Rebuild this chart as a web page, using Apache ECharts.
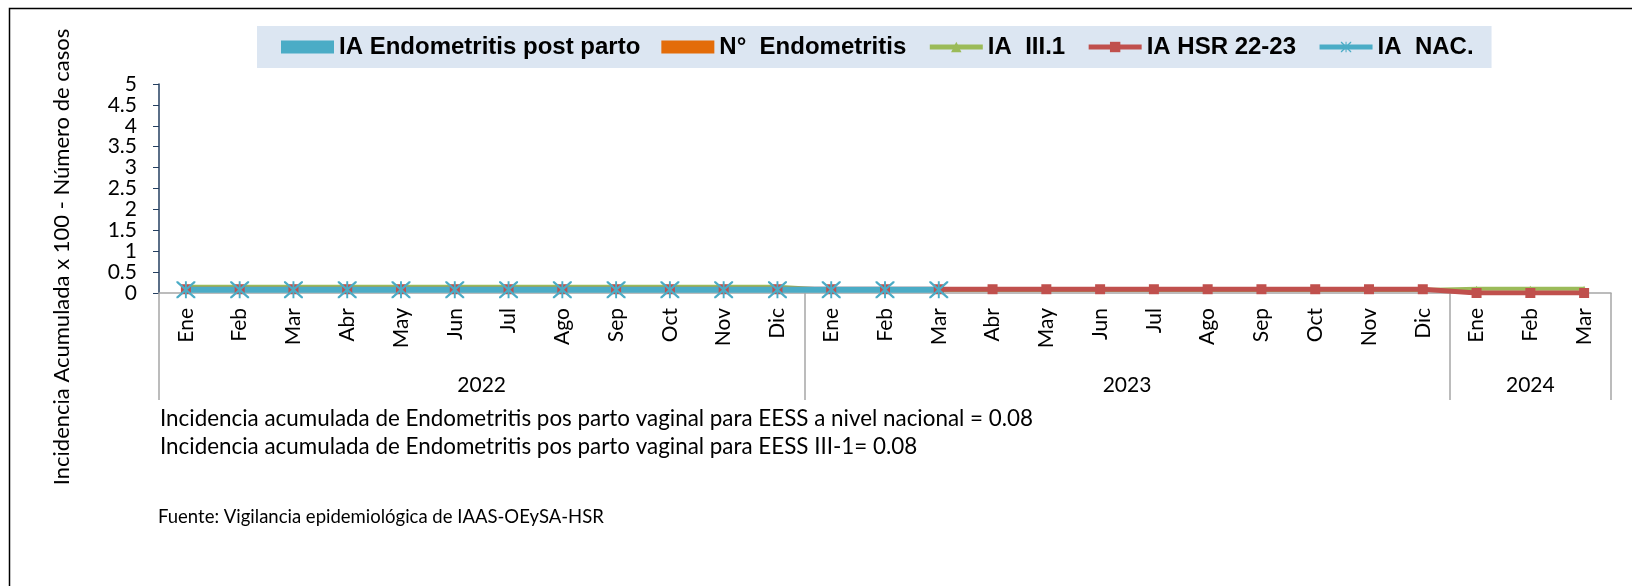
<!DOCTYPE html>
<html>
<head>
<meta charset="utf-8">
<title>Endometritis post parto</title>
<script src="https://cdn.jsdelivr.net/npm/echarts@6.0.0/dist/echarts.min.js"></script>
<style>
  html, body { margin: 0; padding: 0; background: #fff; }
  #main { width: 1632px; height: 586px; }
</style>
</head>
<body>
<div id="main"></div>
<script>
// meses (ene 2022 - mar 2024)
var meses = ['Ene', 'Feb', 'Mar', 'Abr', 'May', 'Jun', 'Jul', 'Ago', 'Sep', 'Oct', 'Nov', 'Dic',
             'Ene', 'Feb', 'Mar', 'Abr', 'May', 'Jun', 'Jul', 'Ago', 'Sep', 'Oct', 'Nov', 'Dic',
             'Ene', 'Feb', 'Mar'];
var anios = ['2022', '2023', '2024'];
var mesesPorAnio = [12, 12, 3];

var iaPostParto = [0, 0, 0, 0, 0, 0, 0, 0, 0, 0, 0, 0,
                   0, 0, 0, 0, 0, 0, 0, 0, 0, 0, 0, 0,
                   0, 0, 0];
var nEndometritis = [0, 0, 0, 0, 0, 0, 0, 0, 0, 0, 0, 0,
                     0, 0, 0, 0, 0, 0, 0, 0, 0, 0, 0, 0,
                     0, 0, 0];
var iaIII1 = [0.15, 0.15, 0.15, 0.15, 0.15, 0.15, 0.15, 0.15, 0.15, 0.15, 0.15, 0.15,
              0.07, 0.07, 0.07, 0.07, 0.07, 0.07, 0.07, 0.07, 0.07, 0.07, 0.07, 0.07,
              0.1, 0.1, 0.1];
var iaHSR = [0.09, 0.09, 0.09, 0.09, 0.09, 0.09, 0.09, 0.09, 0.09, 0.09, 0.09, 0.09,
             0.09, 0.09, 0.09, 0.09, 0.09, 0.09, 0.09, 0.09, 0.09, 0.09, 0.09, 0.09,
             0, 0, 0];
var iaNac = [0.08, 0.08, 0.08, 0.08, 0.08, 0.08, 0.08, 0.08, 0.08, 0.08, 0.08, 0.08,
             0.08, 0.08, 0.08, null, null, null, null, null, null, null, null, null,
             null, null, null];

var yTicks = [0, 0.5, 1, 1.5, 2, 2.5, 3, 3.5, 4, 4.5, 5];

// limites y centro de cada año sobre el eje de meses
var limites = [0], centros = [];
var acc = 0;
for (var i = 0; i < mesesPorAnio.length; i++) {
  centros.push(acc + mesesPorAnio[i] / 2);
  acc += mesesPorAnio[i];
  limites.push(acc);
}

var asterisco = 'path://M0,0 L9,0 L100,91 L100,100 L91,100 L0,9 Z M100,0 L100,9 L9,100 L0,100 L0,91 L91,0 Z M45,0 L55,0 L55,100 L45,100 Z';

var fuente = 'Lato';
var chart = echarts.init(document.getElementById('main'));

var option = {
  animation: false,
  backgroundColor: '#fff',
  grid: { left: 159, top: 84, width: 1452, height: 209 },
  legend: {
    left: 257, top: 26,
    padding: [9, 18, 9, 24],
    backgroundColor: '#dce6f2',
    itemGap: 21,
    itemWidth: 53,
    itemHeight: 13,
    textStyle: { fontFamily: 'Liberation Sans', fontWeight: 'bold', fontSize: 24, color: '#000' },
    data: [
      { name: 'IA Endometritis post parto', icon: 'rect' },
      { name: 'N°  Endometritis', icon: 'rect' },
      { name: 'IA  III.1', lineStyle: { width: 5 } },
      { name: 'IA HSR 22-23', lineStyle: { width: 5 } },
      { name: 'IA  NAC.', lineStyle: { width: 5 } }
    ]
  },
  xAxis: [{
    type: 'category',
    data: meses,
    axisLine: { lineStyle: { color: '#a6a6a6', width: 1.5 } },
    axisTick: { show: false },
    axisLabel: { rotate: 90, margin: 15, fontFamily: fuente, fontSize: 21, color: '#000' }
  }, {
    type: 'value',
    position: 'bottom',
    min: 0, max: acc,
    axisLine: { show: false },
    splitLine: { show: false },
    axisTick: { show: true, customValues: limites, length: 107, lineStyle: { color: '#a6a6a6', width: 1.5 } },
    axisLabel: {
      customValues: centros, margin: 82, fontFamily: fuente, fontSize: 21, color: '#000',
      formatter: function (v) { return anios[centros.indexOf(v)]; }
    }
  }],
  yAxis: {
    type: 'value',
    min: 0, max: 5, interval: 0.5,
    axisLine: { show: true, lineStyle: { color: '#243f60', width: 1.5 } },
    axisTick: { show: true, length: 6, lineStyle: { color: '#243f60' } },
    splitLine: { show: false },
    axisLabel: {
      margin: 22, fontFamily: fuente, fontSize: 21, color: '#000',
      formatter: function (v) { return yTicks.indexOf(v) >= 0 ? String(v) : ''; }
    }
  },
  series: [
    { name: 'IA Endometritis post parto', type: 'bar', data: iaPostParto, itemStyle: { color: '#4bacc6' } },
    { name: 'N°  Endometritis', type: 'bar', data: nEndometritis, itemStyle: { color: '#e36c09' } },
    {
      name: 'IA  III.1', type: 'line', data: iaIII1,
      symbol: 'triangle', symbolSize: 6, showAllSymbol: true,
      itemStyle: { color: '#9bbb59' }, lineStyle: { color: '#9bbb59', width: 4 }
    },
    {
      name: 'IA HSR 22-23', type: 'line', data: iaHSR,
      symbol: 'rect', symbolSize: 10, showAllSymbol: true,
      itemStyle: { color: '#c0504d' }, lineStyle: { color: '#c0504d', width: 5 }
    },
    {
      name: 'IA  NAC.', type: 'line', data: iaNac,
      symbol: asterisco, symbolSize: [19, 17], showAllSymbol: true,
      itemStyle: { color: '#4bacc6' }, lineStyle: { color: '#4bacc6', width: 6 }
    }
  ],
  graphic: [
    { type: 'rect', shape: { x: 9.5, y: 8.5, width: 1700, height: 700 }, style: { fill: 'none', stroke: '#000', lineWidth: 1.5 }, silent: true },
    {
      type: 'text', x: 62, y: 257, rotation: Math.PI / 2,
      style: { text: 'Incidencia Acumulada x 100 - Número de casos', font: '22px Lato', fill: '#000', align: 'center', verticalAlign: 'middle' }
    },
    {
      type: 'text', x: 160, y: 419,
      style: { text: 'Incidencia acumulada de Endometritis pos parto vaginal para EESS a nivel nacional = 0.08', font: '22.4px Lato', fill: '#000', verticalAlign: 'middle' }
    },
    {
      type: 'text', x: 160, y: 447,
      style: { text: 'Incidencia acumulada de Endometritis pos parto vaginal para EESS III-1= 0.08', font: '22.4px Lato', fill: '#000', verticalAlign: 'middle' }
    },
    {
      type: 'text', x: 158, y: 517,
      style: { text: 'Fuente: Vigilancia epidemiológica de IAAS-OEySA-HSR', font: '18.5px Lato', fill: '#000', verticalAlign: 'middle' }
    }
  ]
};

chart.setOption(option);
</script>
</body>
</html>
